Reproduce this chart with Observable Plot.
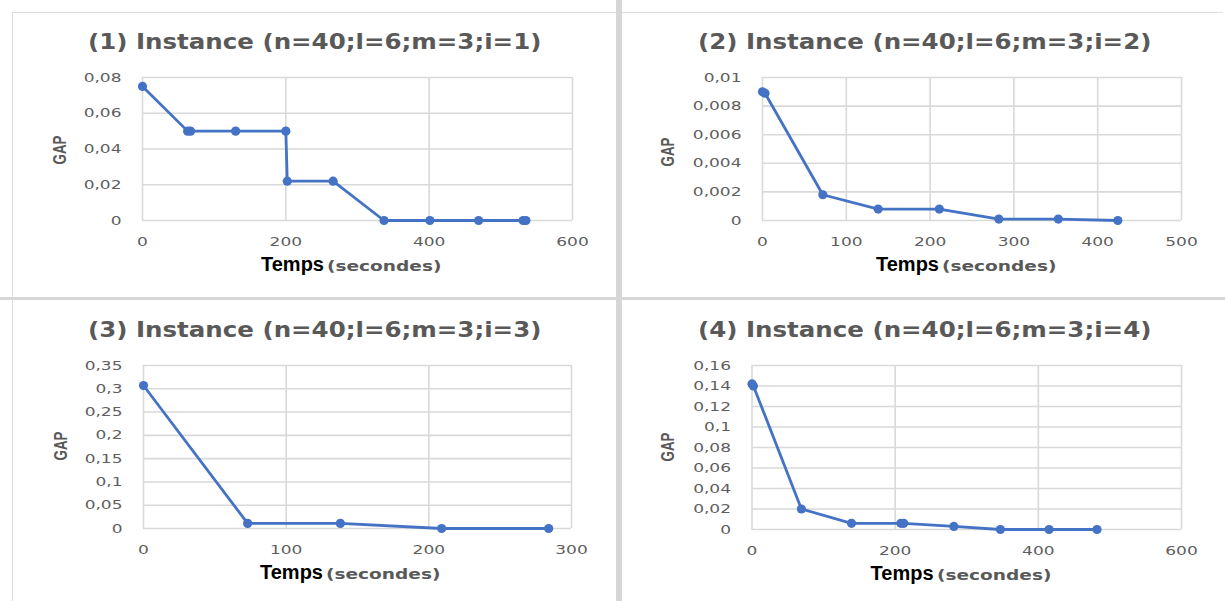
<!DOCTYPE html>
<html><head><meta charset="utf-8">
<script src="https://cdn.jsdelivr.net/npm/d3@7"></script>
<script src="https://cdn.jsdelivr.net/npm/@observablehq/plot@0.6"></script>
<style>
html,body{margin:0;padding:0;background:#fff;}
#root{position:relative;width:1225px;height:601px;overflow:hidden;background:#fff;}
.abs{position:absolute;}
.txt{position:absolute;white-space:nowrap;line-height:1;}
</style></head><body><div id="root"></div>
<script>
// ---- data ----
const titles = [
  "(1) Instance (n=40;l=6;m=3;i=1)",
  "(2) Instance (n=40;l=6;m=3;i=2)",
  "(3) Instance (n=40;l=6;m=3;i=3)",
  "(4) Instance (n=40;l=6;m=3;i=4)"
];
const yLabel = "GAP";
const xLabelMain = "Temps";
const xLabelUnit = "(secondes)";

const time1 = [0, 63, 67, 130, 200, 202, 266, 337, 401, 469, 531, 535];
const gap1  = [0.075, 0.05, 0.05, 0.05, 0.05, 0.022, 0.022, 0, 0, 0, 0, 0];
const xTicks1 = [0, 200, 400, 600];
const yTicks1 = [0, 0.02, 0.04, 0.06, 0.08];

const time2 = [0, 3, 72, 138, 211, 282, 353, 424];
const gap2  = [0.009, 0.0089, 0.0018, 0.0008, 0.0008, 0.0001, 0.0001, 0];
const xTicks2 = [0, 100, 200, 300, 400, 500];
const yTicks2 = [0, 0.002, 0.004, 0.006, 0.008, 0.01];

const time3 = [0, 73, 138, 209, 284];
const gap3  = [0.307, 0.011, 0.011, 0, 0];
const xTicks3 = [0, 100, 200, 300];
const yTicks3 = [0, 0.05, 0.1, 0.15, 0.2, 0.25, 0.3, 0.35];

const time4 = [0, 2, 69, 139, 208, 212, 282, 347, 415, 482];
const gap4  = [0.142, 0.14, 0.02, 0.006, 0.006, 0.006, 0.003, 0, 0, 0];
const xTicks4 = [0, 200, 400, 600];
const yTicks4 = [0, 0.02, 0.04, 0.06, 0.08, 0.1, 0.12, 0.14, 0.16];

// ---- layout ----
const root = document.getElementById('root');
function box(l,t,w,h,c){
  const d=document.createElement('div'); d.className='abs';
  Object.assign(d.style,{left:l+'px',top:t+'px',width:w+'px',height:h+'px',background:c});
  root.appendChild(d);
}
box(12,12,1211,1,'#dedede');
box(12,12,1,589,'#dedede');
box(616,0,6,601,'#d6d6d6');
box(0,297,1225,3,'#d6d6d6');

function addText(str, o){
  const d=document.createElement('div'); d.className='txt'; d.textContent=str;
  Object.assign(d.style,{fontFamily:o.font, fontSize:o.size+'px', fontWeight:o.weight||'normal', color:o.color});
  root.appendChild(d);
  const w=d.offsetWidth, h=d.offsetHeight;
  const sx = o.width ? o.width/w : 1;
  if (o.rotate) {
    d.style.left=(o.cx-w/2)+'px'; d.style.top=(o.cy-h/2)+'px';
    d.style.transformOrigin='50% 50%';
    d.style.transform='rotate(-90deg) scaleX('+sx+')';
  } else if (o.cx !== undefined) {
    d.style.left=(o.cx-w/2)+'px'; d.style.top=(o.cy-h/2)+'px';
    d.style.transformOrigin='50% 50%';
    d.style.transform='scaleX('+sx+')';
  } else {
    d.style.left=o.left+'px'; d.style.top=(o.baseline-0.846*o.size)+'px';
    d.style.transformOrigin='0 50%';
    d.style.transform='scaleX('+sx+')';
  }
}

const panels = [
  {time:time1,gap:gap1,xTicks:xTicks1,yTicks:yTicks1,left:0,top:0,w:612,h:298,ml:142,mr:40,mt:77,mb:78,
   title:[314.5,42],gapPos:[59,150],tempsLeft:261,base:271},
  {time:time2,gap:gap2,xTicks:xTicks2,yTicks:yTicks2,left:612,top:0,w:613,h:298,ml:150,mr:44,mt:77,mb:78,
   title:[924,42],gapPos:[667,152],tempsLeft:876,base:271},
  {time:time3,gap:gap3,xTicks:xTicks3,yTicks:yTicks3,left:0,top:300,w:612,h:301,ml:143,mr:41,mt:65,mb:73,
   title:[314.5,330],gapPos:[60,446],tempsLeft:260,base:578.5},
  {time:time4,gap:gap4,xTicks:xTicks4,yTicks:yTicks4,left:612,top:300,w:613,h:301,ml:139.5,mr:44,mt:65,mb:72,
   title:[924,330],gapPos:[667,447],tempsLeft:870.6,base:580}
];

panels.forEach((p,i)=>{
  const data = p.time.map((t,j)=>({t, g:p.gap[j]}));
  const fmt = d => String(d).replace('.', ',');
  const svg = Plot.plot({
    width:p.w, height:p.h,
    marginLeft:p.ml, marginRight:p.mr, marginTop:p.mt, marginBottom:p.mb,
    style:{fontFamily:"'DejaVu Sans', sans-serif", fontSize:"12.5px", color:"#5e5e5e", background:"transparent", overflow:"visible"},
    x:{domain:[p.xTicks[0], p.xTicks[p.xTicks.length-1]], label:null},
    y:{domain:[0, p.yTicks[p.yTicks.length-1]], label:null},
    marks:[
      Plot.gridX(p.xTicks, {stroke:"#d9d9d9", strokeOpacity:1, strokeWidth:1.6}),
      Plot.gridY(p.yTicks, {stroke:"#d9d9d9", strokeOpacity:1, strokeWidth:1.6}),
      Plot.axisX(p.xTicks, {tickSize:0, tickPadding:16.5, label:null}),
      Plot.axisY(p.yTicks, {tickSize:0, tickPadding:21, label:null, tickFormat:fmt}),
      Plot.line(data, {x:"t", y:"g", stroke:"#4472C4", strokeWidth:2.8}),
      Plot.dot(data, {x:"t", y:"g", r:4.6, fill:"#4472C4", stroke:"none"})
    ]
  });
  svg.style.position='absolute';
  svg.style.left=p.left+'px';
  svg.style.top=p.top+'px';
  root.appendChild(svg);
  svg.querySelectorAll('g[aria-label$="tick label"] text').forEach(t=>{
    const L=t.getComputedTextLength();
    t.setAttribute('textLength', (L*1.36).toFixed(2));
    t.setAttribute('lengthAdjust','spacingAndGlyphs');
  });

  addText(titles[i], {font:"'DejaVu Sans', sans-serif", size:20.5, weight:'bold', color:'#595959', cx:p.title[0], cy:p.title[1], width:453});
  addText(yLabel, {font:"'Liberation Sans', Arial, sans-serif", size:18, weight:'bold', color:'#595959', cx:p.gapPos[0], cy:p.gapPos[1], width:29, rotate:true});
  addText(xLabelMain, {font:"'Liberation Sans', Arial, sans-serif", size:20, weight:'bold', color:'#000', left:p.tempsLeft, baseline:p.base, width:63});
  addText(xLabelUnit, {font:"'DejaVu Sans', sans-serif", size:14, weight:'bold', color:'#595959', left:p.tempsLeft+66, baseline:p.base, width:114});
});
</script>
</body></html>
